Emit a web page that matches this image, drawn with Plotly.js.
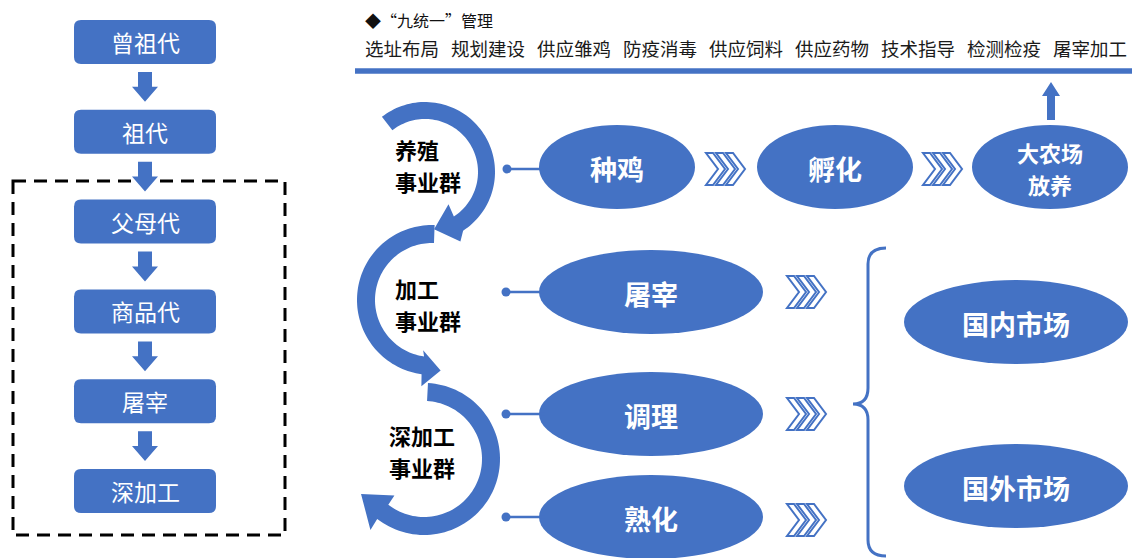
<!DOCTYPE html>
<html>
<head>
<meta charset="utf-8">
<script src="https://cdn.plot.ly/plotly-3.0.1.min.js"></script>
<style>html,body{margin:0;padding:0;background:#fff;}#chart{width:1132px;height:558px;}</style>
</head>
<body>
<div id="chart"></div>
<script>
// ---- data (labels) ----
const generations = ['曾祖代', '祖代', '父母代', '商品代', '屠宰', '深加工'];
const managementTitle = '◆“九统一”管理';
const managementItems = ['选址布局', '规划建设', '供应雏鸡', '防疫消毒', '供应饲料', '供应药物', '技术指导', '检测检疫', '屠宰加工'];
const groups = ['养殖<br>事业群', '加工<br>事业群', '深加工<br>事业群'];
const breedingNodes = ['种鸡', '孵化', '大农场<br>放养'];
const processNodes = ['屠宰', '调理', '熟化'];
const markets = ['国内市场', '国外市场'];

// ---- drawing helpers ----
const FONT = '"Noto Sans CJK SC", "Noto Sans", sans-serif';
const BLUE = '#4472C4';
const shapes = [];
const annotations = [];

function txt(x, y, text, size, color, opts) {
  annotations.push(Object.assign({
    x: x, y: y, xref: 'x', yref: 'y', text: text, showarrow: false,
    font: { family: FONT, size: size, color: color },
    xanchor: 'center', yanchor: 'middle', borderpad: 0
  }, opts || {}));
}
// multi-line label drawn line by line
function txtLines(x, yFirst, gap, label, size, color, bold, opts) {
  label.split('<br>').forEach((line, k) => {
    txt(x, yFirst + k * gap, bold ? '<b>' + line + '</b>' : line, size, color, opts);
  });
}
function pathShape(d, fill, line) {
  shapes.push({ type: 'path', xref: 'x', yref: 'y', path: d,
    fillcolor: fill || 'rgba(0,0,0,0)',
    line: line || { width: 0, color: 'rgba(0,0,0,0)' } });
}
function poly(pts) {
  return pts.map((p, i) => (i ? 'L' : 'M') + p[0].toFixed(2) + ',' + p[1].toFixed(2)).join(' ') + ' Z';
}
function rrect(x0, y0, x1, y1, r) {
  return `M${x0 + r},${y0} L${x1 - r},${y0} Q${x1},${y0} ${x1},${y0 + r} L${x1},${y1 - r} Q${x1},${y1} ${x1 - r},${y1} ` +
         `L${x0 + r},${y1} Q${x0},${y1} ${x0},${y1 - r} L${x0},${y0 + r} Q${x0},${y0} ${x0 + r},${y0} Z`;
}
function ellipse(cx, cy, rx, ry) {
  shapes.push({ type: 'circle', xref: 'x', yref: 'y', x0: cx - rx, x1: cx + rx, y0: cy - ry, y1: cy + ry,
    fillcolor: BLUE, line: { width: 0, color: BLUE } });
}
function downArrow(cx, y0, y1) {
  const sw = 7, hw = 13, hl = 15;
  pathShape(poly([[cx - sw, y0], [cx + sw, y0], [cx + sw, y1 - hl], [cx + hw, y1 - hl], [cx, y1], [cx - hw, y1 - hl], [cx - sw, y1 - hl]]), BLUE);
}
function chevrons(x0, cy) {
  const h = 16, w = 12, t = 7, gap = 10;
  for (let k = 0; k < 3; k++) {
    const x = x0 + k * gap;
    pathShape(poly([[x, cy - h], [x + t, cy - h], [x + t + w, cy], [x + t, cy + h], [x, cy + h], [x + w, cy]]),
      'rgba(0,0,0,0)', { color: BLUE, width: 2 });
  }
}
function connector(xd, y, xe) {
  shapes.push({ type: 'line', xref: 'x', yref: 'y', x0: xd, x1: xe, y0: y, y1: y, line: { color: BLUE, width: 2.5 } });
  shapes.push({ type: 'circle', xref: 'x', yref: 'y', x0: xd - 4.5, x1: xd + 4.5, y0: y - 4.5, y1: y + 4.5,
    fillcolor: BLUE, line: { width: 0, color: BLUE } });
}
function P(cx, cy, r, deg) {
  const a = deg * Math.PI / 180;
  return [cx + r * Math.cos(a), cy + r * Math.sin(a)];
}
function arcArrow(o) {
  const n = 80, pts = [];
  for (let i = 0; i <= n; i++) pts.push(P(o.cx, o.cy, o.rOut, o.a0 + (o.a1 - o.a0) * i / n));
  pts.push(P(o.cx, o.cy, o.bOut, o.aBo));
  pts.push(P(o.cx, o.cy, o.rTip, o.aTip));
  pts.push(P(o.cx, o.cy, o.bIn, o.aBi));
  for (let i = n; i >= 0; i--) pts.push(P(o.cx, o.cy, o.rIn, o.a0 + (o.a1 - o.a0) * i / n));
  pathShape(poly(pts), BLUE);
}

// ---- left column: generations ----
shapes.push({ type: 'rect', xref: 'x', yref: 'y', x0: 13, x1: 285, y0: 181, y1: 535,
  line: { color: '#000000', width: 3, dash: '13px,8px' }, fillcolor: 'rgba(0,0,0,0)' });
const boxX0 = 74, boxX1 = 216, boxH = 44, boxStep = 89.8, boxTop = 20;
generations.forEach((g, i) => {
  const y0 = boxTop + i * boxStep;
  pathShape(rrect(boxX0, y0, boxX1, y0 + boxH, 7), BLUE);
  txt((boxX0 + boxX1) / 2, y0 + boxH / 2, g, 23, '#ffffff');
  if (i < generations.length - 1) downArrow(145, y0 + boxH + 8, y0 + boxStep - 8);
});

// ---- top management bar ----
txt(364, 20, managementTitle, 16, '#111111', { xanchor: 'left' });
managementItems.forEach((m, i) => {
  txt(402 + i * 86, 48, m, 18.5, '#1a1a1a');
});
shapes.push({ type: 'line', xref: 'x', yref: 'y', x0: 355, x1: 1132, y0: 71, y1: 71, line: { color: BLUE, width: 5.5 } });
// up arrow
pathShape(poly([[1047, 120], [1055, 120], [1055, 96], [1060, 96], [1051, 82], [1042, 96], [1047, 96]]), BLUE);

// ---- circular arrows for groups ----
arcArrow({ cx: 425, cy: 172, rOut: 70, rIn: 53, a0: -128, a1: 57, aBo: 63, bOut: 78, aBi: 54, bIn: 40, aTip: 81, rTip: 58 });
arcArrow({ cx: 432, cy: 300, rOut: 75, rIn: 57, a0: -88, a1: -262, aBo: -263, bOut: 87, aBi: -260, bIn: 51, aTip: -277, rTip: 71 });
arcArrow({ cx: 424, cy: 459, rOut: 76, rIn: 58, a0: -87, a1: 128, aBo: 127, bOut: 89, aBi: 129, bIn: 47, aTip: 151, rTip: 72 });

const groupPos = [[394, 149], [394, 288], [388, 435]];
groups.forEach((g, i) => {
  txtLines(groupPos[i][0], groupPos[i][1], 32, g, 22, '#000000', true, { xanchor: 'left' });
});

// ---- breeding row ----
const rowY = 167;
const breedX = [617, 835, 1050];
breedingNodes.forEach((b, i) => {
  ellipse(breedX[i], rowY, 78, 42);
  if (i === 2) txtLines(breedX[i], rowY - 15, 32, b, 22, '#ffffff', true);
  else txt(breedX[i], rowY + 1, '<b>' + b + '</b>', 27, '#ffffff');
});
connector(507, 169, 540);
chevrons(706, 169);
chevrons(923, 169);

// ---- processing rows ----
const procY = [292, 414, 517];
processNodes.forEach((p, i) => {
  ellipse(651, procY[i], 112, 42);
  txt(651, procY[i] + 1, '<b>' + p + '</b>', 27, '#ffffff');
  connector(506, procY[i], 545);
  chevrons(787, procY[i] + (i === 2 ? 3 : 0));
});

// brace
pathShape('M886,248 Q868,248 868,264 L868,388 Q868,404 853,404 Q868,404 868,420 L868,540 Q868,556 886,556',
  'rgba(0,0,0,0)', { color: BLUE, width: 3 });

// markets
const marketY = [322, 486];
markets.forEach((m, i) => {
  ellipse(1016, marketY[i], 112, 42);
  txt(1016, marketY[i] + 1, '<b>' + m + '</b>', 27, '#ffffff');
});

const layout = {
  width: 1132, height: 558,
  margin: { l: 0, r: 0, t: 0, b: 0, pad: 0 },
  paper_bgcolor: '#ffffff', plot_bgcolor: '#ffffff',
  showlegend: false,
  xaxis: { range: [0, 1132], visible: false, fixedrange: true },
  yaxis: { range: [558, 0], visible: false, fixedrange: true },
  shapes: shapes,
  annotations: annotations
};
Plotly.newPlot('chart', [{ x: [], y: [], type: 'scatter', mode: 'markers', hoverinfo: 'skip' }], layout,
  { displayModeBar: false, staticPlot: true });
</script>
</body>
</html>
